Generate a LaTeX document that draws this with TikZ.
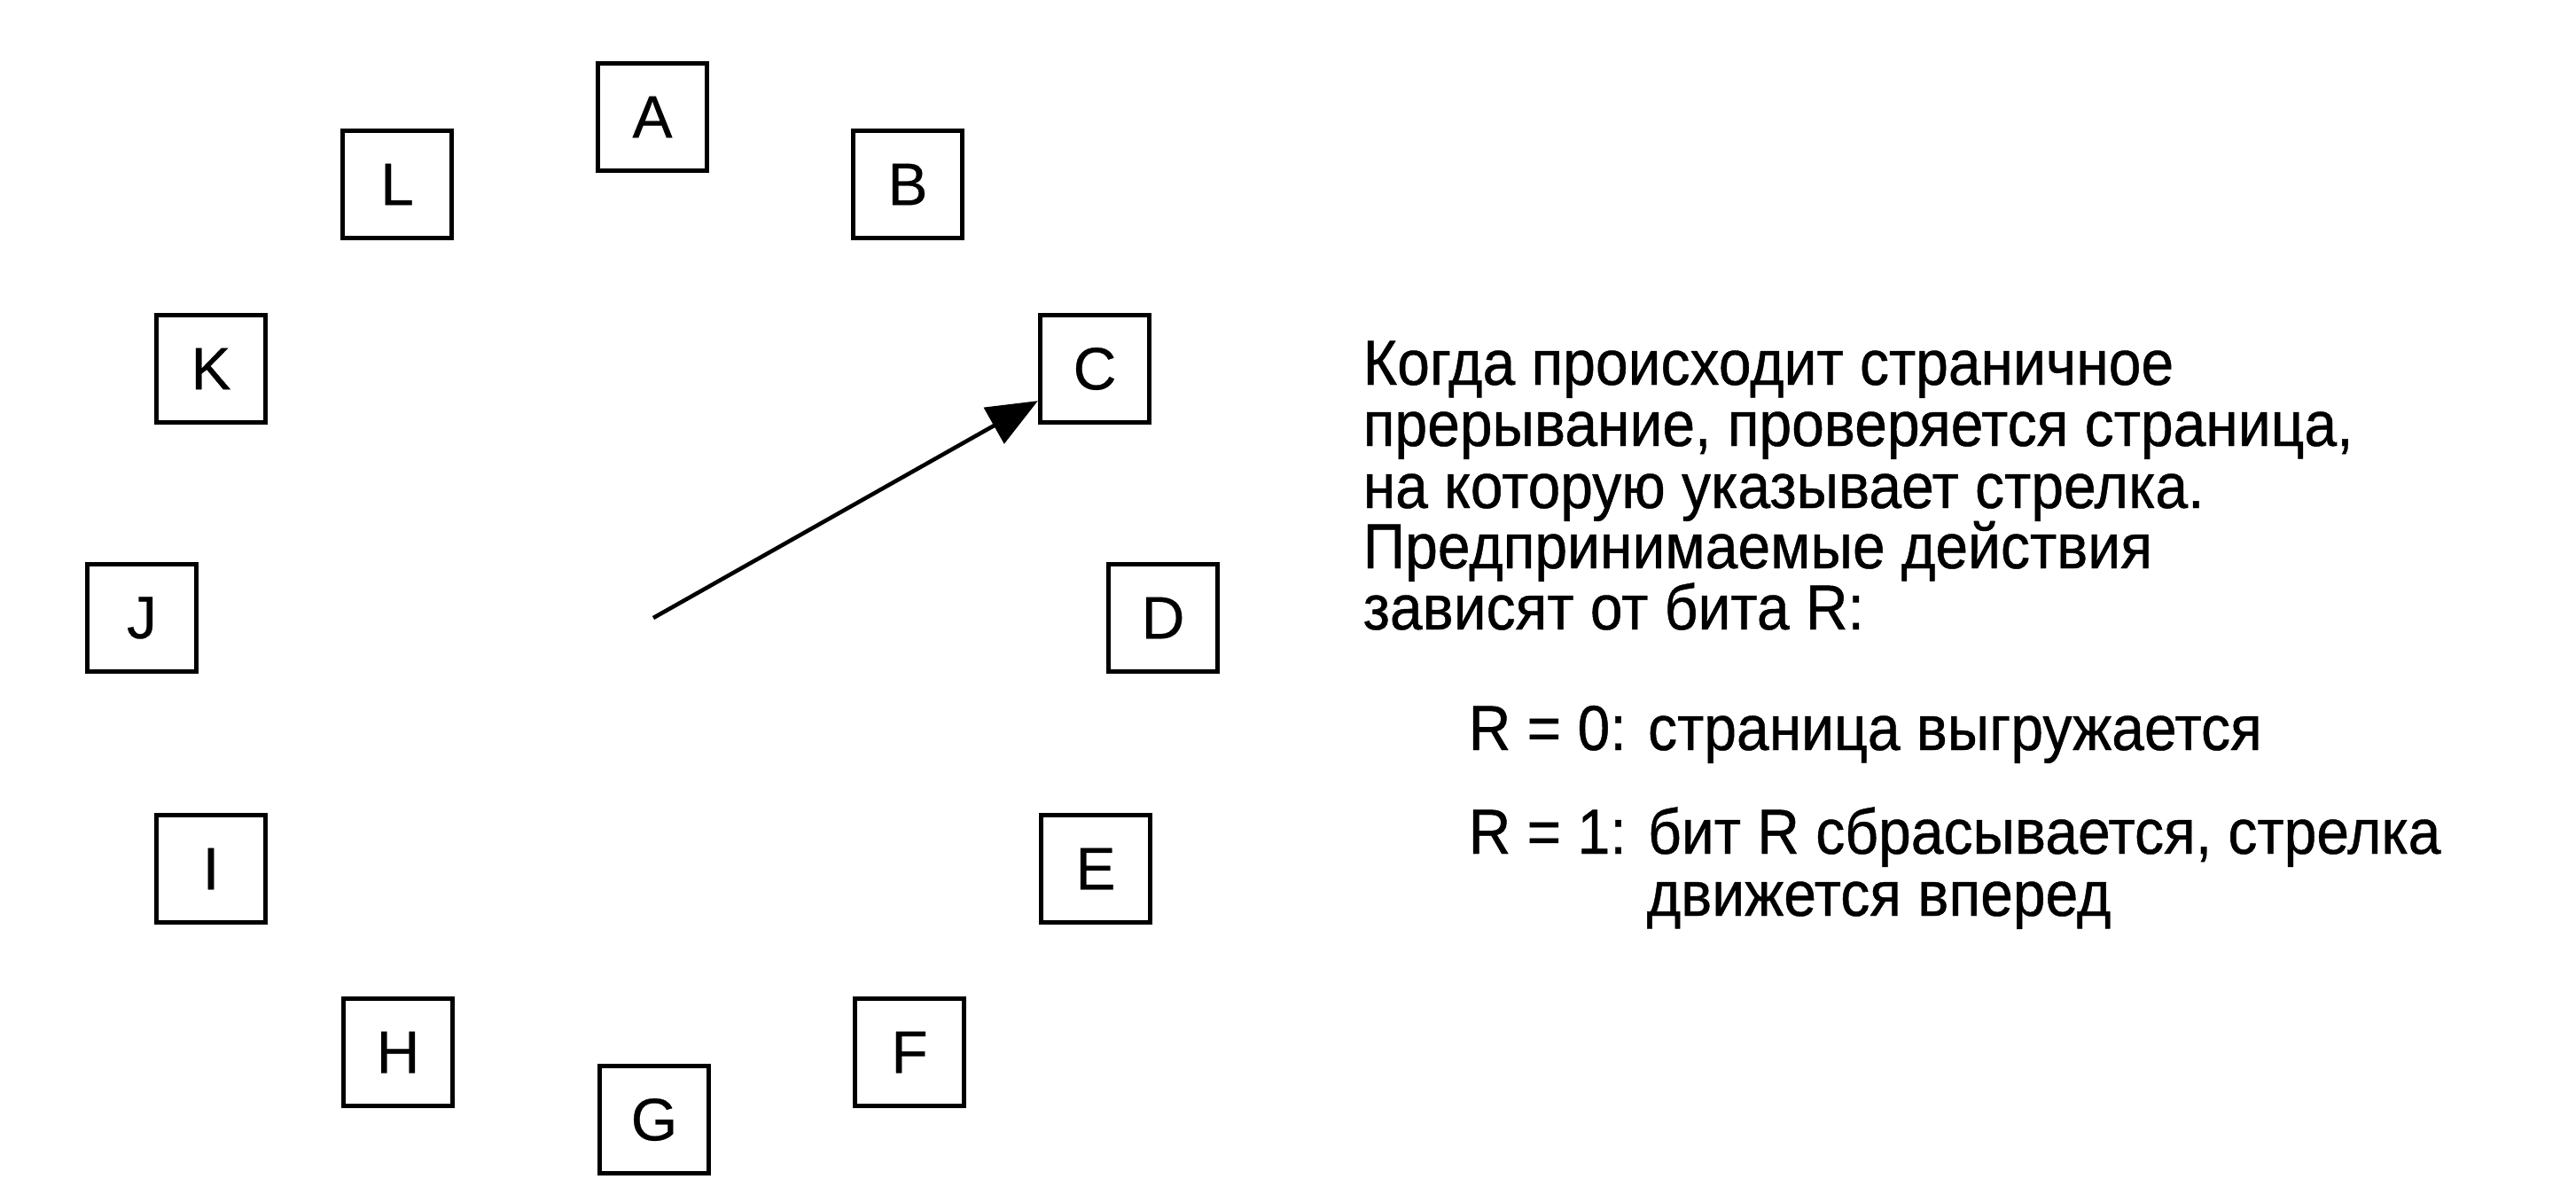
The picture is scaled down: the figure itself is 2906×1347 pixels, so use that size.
\documentclass[tikz,border=0pt]{standalone}
\usepackage{fontspec}
\setmainfont{Liberation Sans}
\newfontfamily\tallfont{Liberation Sans}[FakeStretch=0.92, RawFeature={embolden=0.6}]
\newfontfamily\boxfont{Liberation Sans}[RawFeature={embolden=0.4}]
\usetikzlibrary{arrows.meta}
\begin{document}
\begin{tikzpicture}[x=0.01cm, y=-0.01cm,
  page/.style={draw, line width=1.35pt, minimum width=1.235cm, minimum height=1.215cm,
    inner sep=0pt, font=\boxfont\fontsize{19.2pt}{20pt}\selectfont},
  txt/.style={anchor=base west, inner sep=0pt, font=\tallfont\fontsize{20.4pt}{21pt}\selectfont},
  hand/.style={line width=1.3pt, -{Triangle[length=0.57cm, width=0.46cm]}}]
\useasboundingbox (0,0) rectangle (2906,1347);
% clock pages
\node[page] (A) at (736,132) {A};
\node[page] (B) at (1024,208) {B};
\node[page] (C) at (1235,416) {C};
\node[page] (D) at (1312,697) {D};
\node[page] (E) at (1236,980) {E};
\node[page] (F) at (1026,1187) {F};
\node[page] (G) at (738,1263) {G};
\node[page] (H) at (449,1187) {H};
\node[page] (I) at (238,980) {I};
\node[page] (J) at (160,697) {J};
\node[page] (K) at (238,416) {K};
\node[page] (L) at (448,208) {L};
% hand
\coordinate (O) at (737,697);
\draw[hand] (O) -- (C);
% explanation
\node[txt] (t1) at (1537,434) {Когда происходит страничное};
\node[txt] (t2) at (1537,503) {прерывание, проверяется страница,};
\node[txt] (t3) at (1537,573) {на которую указывает стрелка.};
\node[txt] (t4) at (1537,641) {Предпринимаемые действия};
\node[txt] (t5) at (1537,710) {зависят от бита R:};
\node[txt] (r0) at (1656,846) {R = 0: страница выгружается};
\node[txt] (r1) at (1656,963) {R = 1: бит R сбрасывается, стрелка};
\node[txt] (r1b) at (1857,1033) {движется вперед};
\end{tikzpicture}
\end{document}
